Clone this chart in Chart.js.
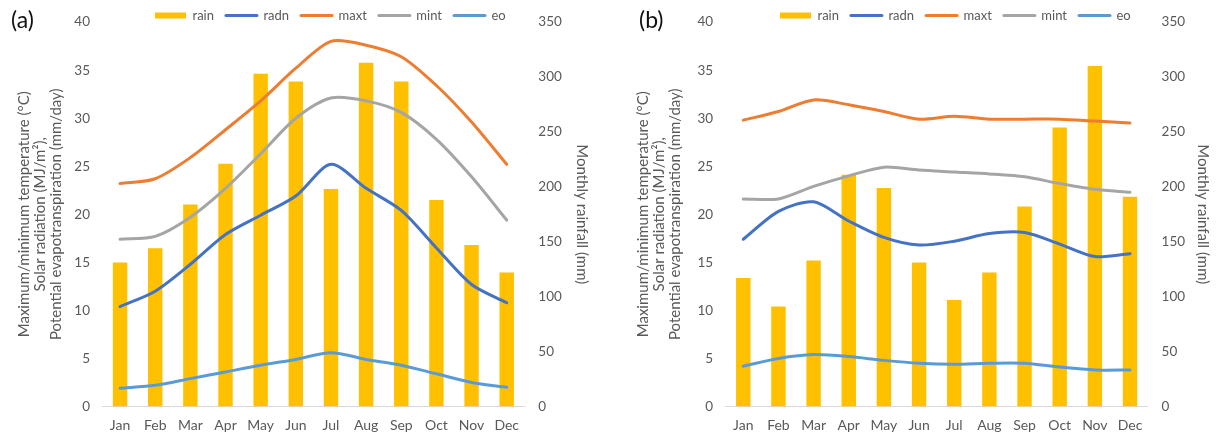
<!DOCTYPE html>
<html>
<head>
<meta charset="utf-8">
<script src="https://cdn.jsdelivr.net/npm/chart.js@4.4.1/dist/chart.umd.min.js"></script>
<style>
  html, body { margin: 0; padding: 0; background: #ffffff; }
  #wrap { position: relative; width: 1216px; height: 435px; overflow: hidden; }
  canvas { position: absolute; top: 0; }
  .panel-tag { position: absolute; font-family: Lato, "Open Sans", sans-serif; font-size: 23px; color: #111; line-height: 26px; }
</style>
</head>
<body>
<div id="wrap">
  <canvas id="chartA" width="608" height="435" style="left:0px"></canvas>
  <canvas id="chartB" width="608" height="435" style="left:608px"></canvas>
  <div class="panel-tag" style="left:11px; top:6px">(a)</div>
  <div class="panel-tag" style="left:639px; top:6px">(b)</div>
</div>
<script>
// Monthly climate summaries for the two sites
const months = ['Jan', 'Feb', 'Mar', 'Apr', 'May', 'Jun', 'Jul', 'Aug', 'Sep', 'Oct', 'Nov', 'Dec'];

// Site (a)
const rainA = [131, 144, 184, 221, 303, 296, 198, 313, 296, 188, 147, 122];
const radnA = [10.4, 12.0, 14.8, 17.9, 19.9, 21.9, 25.2, 22.7, 20.4, 16.5, 12.7, 10.8];
const maxtA = [23.2, 23.7, 25.9, 28.8, 31.8, 35.2, 38.0, 37.6, 36.4, 33.4, 29.6, 25.2];
const mintA = [17.4, 17.7, 19.7, 22.7, 26.3, 30.0, 32.1, 31.8, 30.6, 27.8, 23.9, 19.4];
const eoA   = [1.9, 2.2, 2.9, 3.6, 4.3, 4.9, 5.6, 4.9, 4.3, 3.4, 2.5, 2.0];

// Site (b)
const rainB = [117, 91, 133, 211, 199, 131, 97, 122, 182, 254, 310, 191];
const radnB = [17.4, 20.3, 21.3, 19.3, 17.6, 16.8, 17.2, 18.0, 18.1, 16.9, 15.6, 15.9];
const maxtB = [29.8, 30.7, 31.9, 31.4, 30.7, 29.9, 30.2, 29.9, 29.9, 29.9, 29.7, 29.5];
const mintB = [21.6, 21.6, 22.9, 24.0, 24.9, 24.6, 24.4, 24.2, 23.9, 23.2, 22.6, 22.3];
const eoB   = [4.2, 5.0, 5.4, 5.2, 4.8, 4.5, 4.4, 4.5, 4.5, 4.1, 3.8, 3.8];

// Axis ranges and tick steps
const leftAxisMax = 40, leftAxisStep = 5;
const rightAxisMax = 350, rightAxisStep = 50;

// Axis titles
const leftTitle = ['Maximum/minimum temperature (\u00B0C)', 'Solar radiation (MJ/m\u00B2),', 'Potential evapotranspiration (mm/day)'];
const rightTitle = 'Monthly rainfall (mm)';

const FONT = 'Lato, "Open Sans", sans-serif';
const TEXT = '#595959';
const COLORS = { rain: '#FFC000', radn: '#4472C4', maxt: '#ED7D31', mint: '#A5A5A5', eo: '#5B9BD5' };

// Places the top legend after layout: first item at startX, row centred on centerY,
// without letting the legend push the plot area down.
const legendPlace = {
  id: 'legendPlace',
  afterLayout(chart, args, opts) {
    const lg = chart.legend;
    if (!lg || !lg.lineWidths) return;
    const pad = lg.options.labels.padding;
    const curStart = (lg.left + pad + lg.right - lg.lineWidths[0]) / 2;
    const dx = opts.startX - curStart;
    lg.left += dx; lg.right += dx;
    const fontSize = lg.options.labels.font.size;
    lg.top = opts.centerY - pad - fontSize / 2;
    lg.bottom = lg.top + 2 * pad + 2 * fontSize;
  }
};

function lineSet(label, values, color) {
  return {
    type: 'line', label, data: values, yAxisID: 'y',
    borderColor: color, backgroundColor: color, borderWidth: 3,
    pointRadius: 0, pointHoverRadius: 0, pointBorderWidth: 3,
    tension: 0.28, borderCapStyle: 'round', borderJoinStyle: 'round',
    fill: false, order: 1
  };
}

function makePanel(id, s, geo) {
  const datasets = [
    { type: 'bar', label: 'rain', data: s.rain, yAxisID: 'y2', backgroundColor: COLORS.rain,
      borderWidth: 0, barPercentage: 0.41, categoryPercentage: 1.0, order: 2 },
    lineSet('radn', s.radn, COLORS.radn),
    lineSet('maxt', s.maxt, COLORS.maxt),
    lineSet('mint', s.mint, COLORS.mint),
    lineSet('eo', s.eo, COLORS.eo)
  ];
  return new Chart(document.getElementById(id), {
    data: { labels: months, datasets },
    plugins: [legendPlace],
    options: {
      responsive: false,
      animation: false,
      devicePixelRatio: 1,
      layout: { padding: 0 },
      plugins: {
        tooltip: { enabled: false },
        legendPlace: { startX: geo.legendX, centerY: 15.5 },
        legend: {
          position: 'top',
          maxHeight: 18,
          labels: {
            usePointStyle: true,
            pointStyleWidth: 31,
            boxHeight: 6,
            padding: 12,
            color: TEXT,
            font: { family: FONT, size: 13 },
            sort: (a, b) => a.datasetIndex - b.datasetIndex,
            generateLabels(chart) {
              const items = Chart.defaults.plugins.legend.labels.generateLabels(chart);
              items.forEach(it => {
                const ds = chart.data.datasets[it.datasetIndex];
                if (ds.type === 'bar') {
                  it.pointStyle = 'rect'; it.lineWidth = 0; it.fillStyle = ds.backgroundColor;
                } else {
                  it.pointStyle = 'line'; it.lineWidth = 3; it.strokeStyle = ds.borderColor; it.lineCap = 'round';
                }
              });
              return items;
            }
          }
        }
      },
      scales: {
        x: {
          type: 'category',
          offset: true,
          grid: { display: false, drawTicks: false },
          border: { display: true, color: '#D9D9D9', width: 1 },
          ticks: { color: TEXT, font: { family: FONT, size: 14 }, padding: 11, maxRotation: 0, autoSkip: false },
          afterFit(scale) { scale.height = geo.xAxisH; }
        },
        y: {
          position: 'left',
          min: 0, max: leftAxisMax,
          grid: { display: false, drawTicks: false },
          border: { display: false },
          ticks: { stepSize: leftAxisStep, color: TEXT, font: { family: FONT, size: 13.5 }, padding: 12.5 },
          title: { display: true, text: leftTitle, color: TEXT, font: { family: FONT, size: 15, lineHeight: 1.08 },
                   padding: { top: geo.leftTitlePad, bottom: 0 } },
          afterFit(scale) { scale.width = geo.leftW; }
        },
        y2: {
          position: 'right',
          min: 0, max: rightAxisMax,
          grid: { display: false, drawTicks: false },
          border: { display: false },
          ticks: { stepSize: rightAxisStep, color: TEXT, font: { family: FONT, size: 13.5 }, padding: 14 },
          title: { display: true, text: rightTitle, color: TEXT, font: { family: FONT, size: 15, lineHeight: 1.08 },
                   padding: { top: geo.rightTitlePad, bottom: 0 } },
          afterFit(scale) { scale.width = geo.rightW; }
        }
      }
    }
  });
}

makePanel('chartA',
  { rain: rainA, radn: radnA, maxt: maxtA, mint: mintA, eo: eoA },
  { leftW: 102.5, rightW: 83.7, xAxisH: 28.5, leftTitlePad: 16, rightTitlePad: 18, legendX: 155 });

makePanel('chartB',
  { rain: rainB, radn: radnB, maxt: maxtB, mint: mintB, eo: eoB },
  { leftW: 117.7, rightW: 68.4, xAxisH: 28.5, leftTitlePad: 27, rightTitlePad: 5, legendX: 172 });
</script>
</body>
</html>
